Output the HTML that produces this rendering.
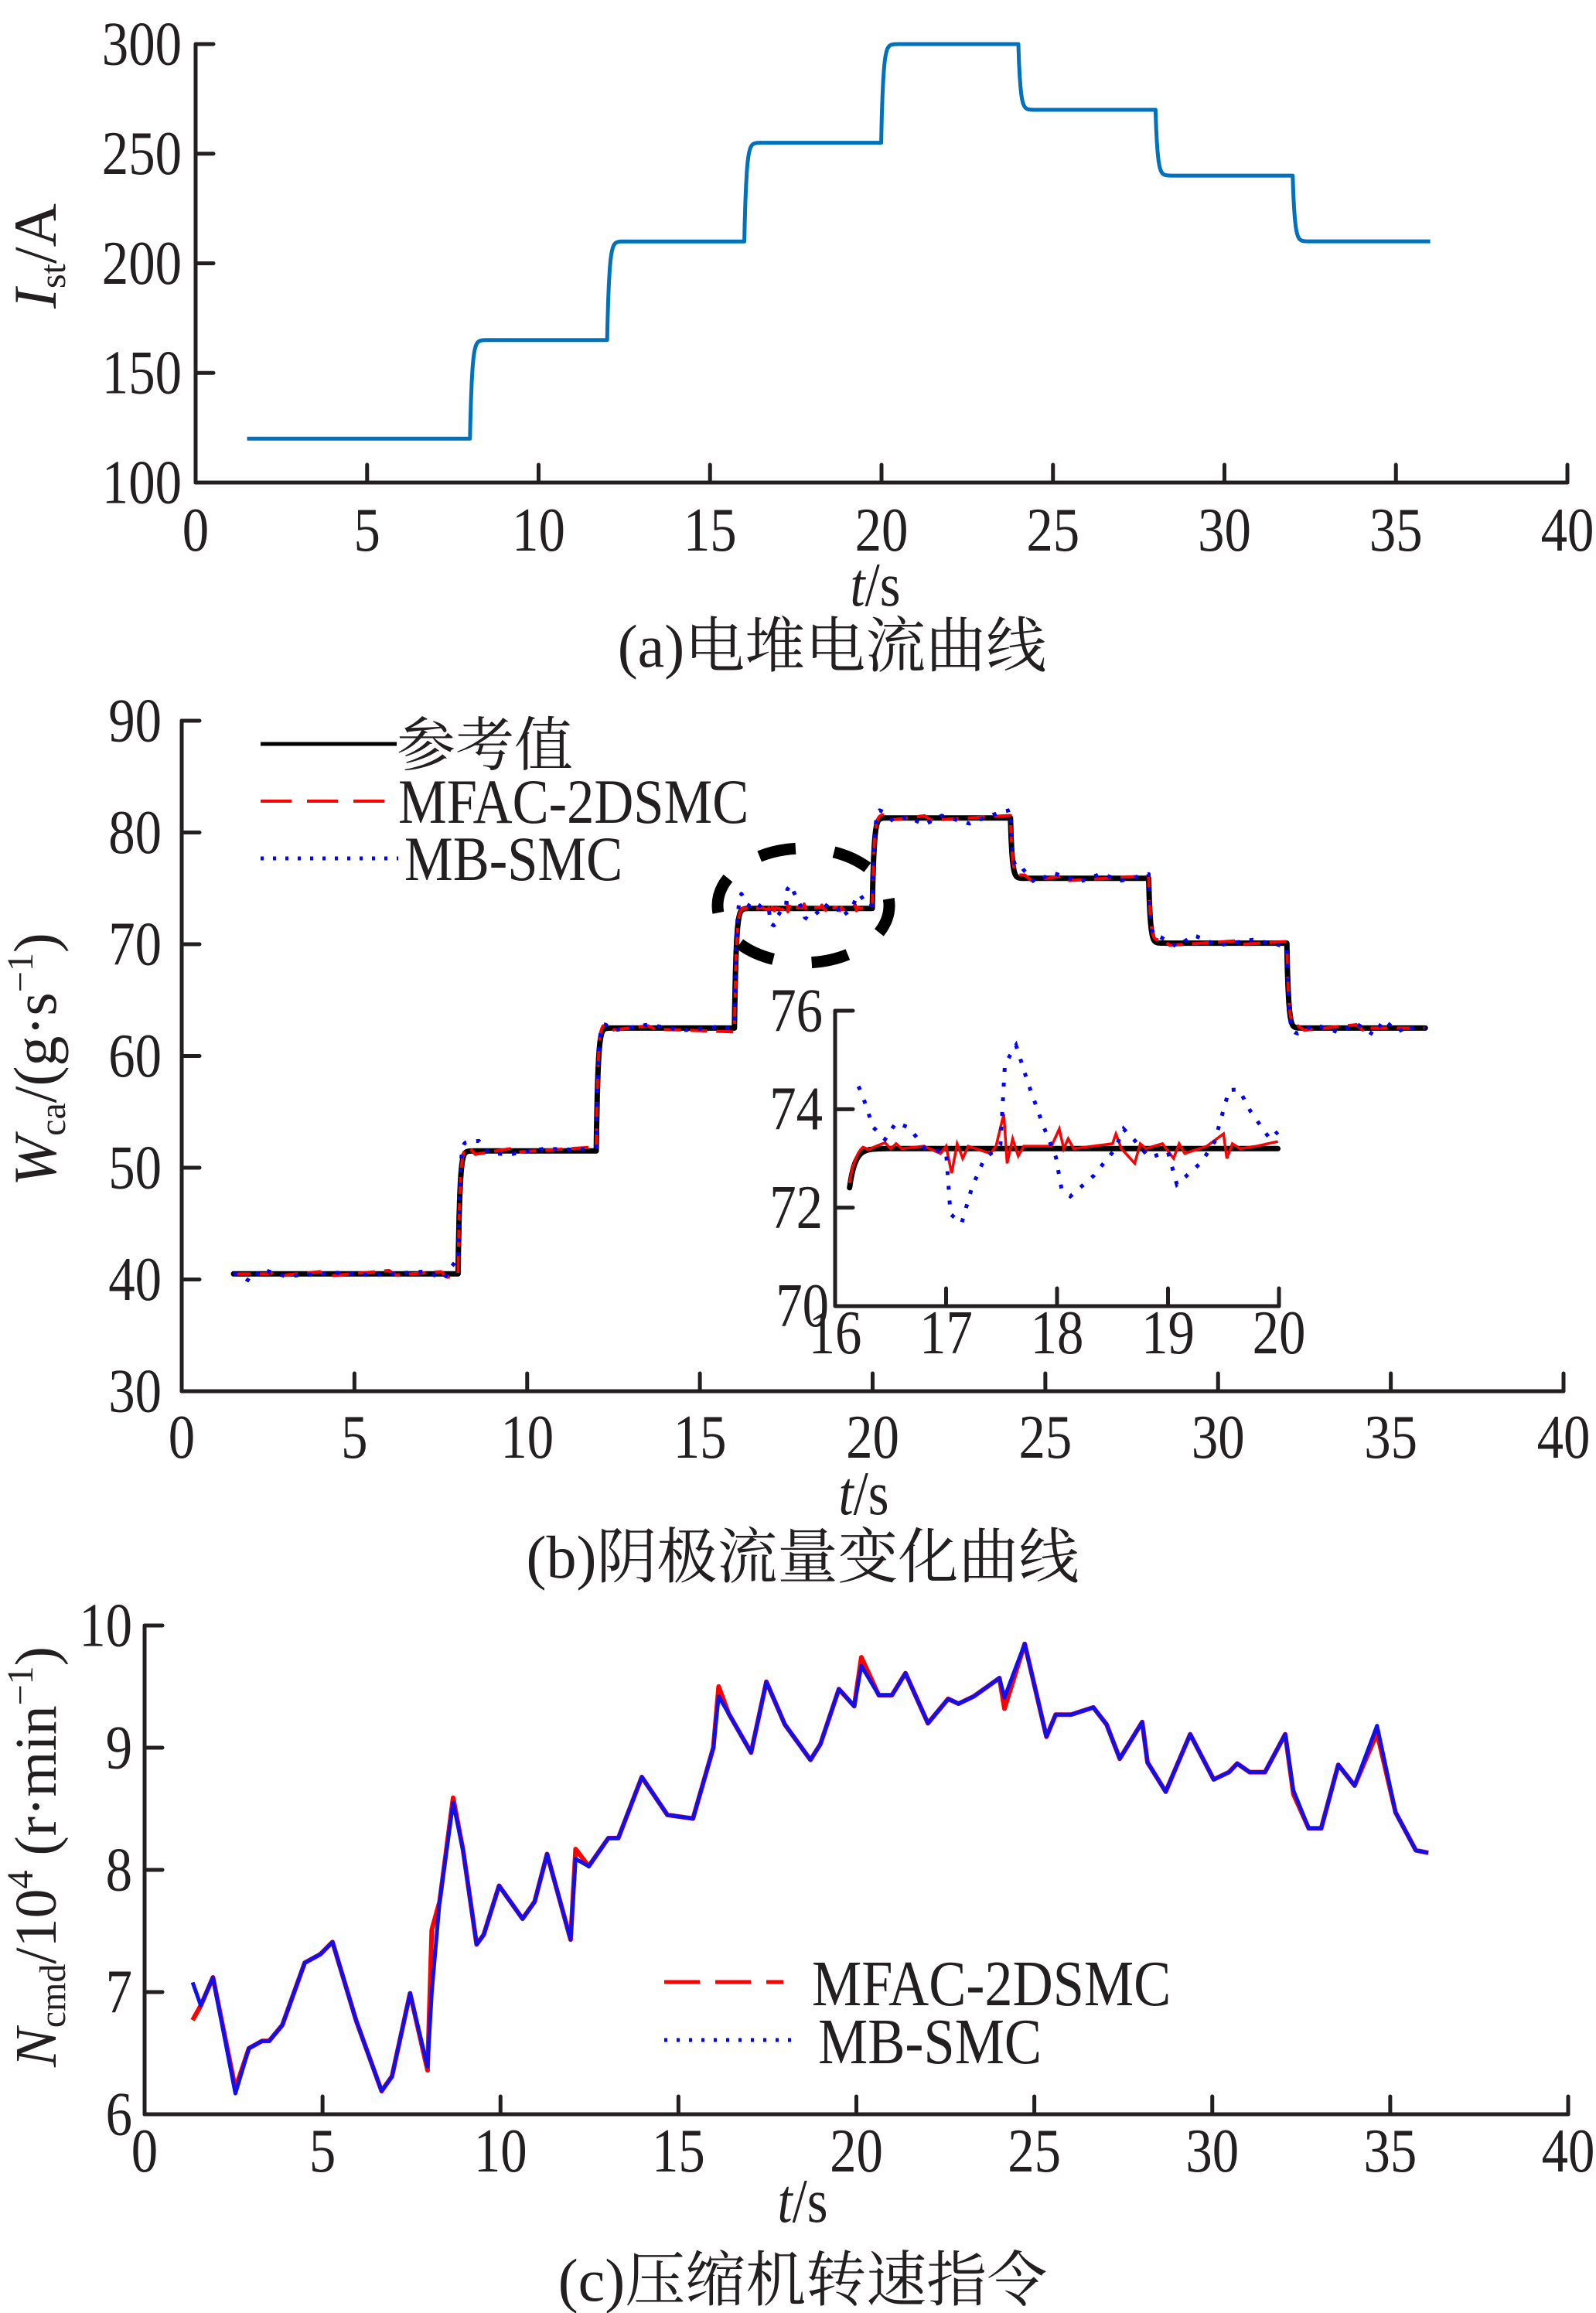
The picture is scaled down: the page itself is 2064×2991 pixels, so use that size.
<!DOCTYPE html>
<html><head><meta charset="utf-8"><style>
html,body{margin:0;padding:0;background:#fff;}
svg{display:block;}
text{font-family:"Liberation Serif","Noto Serif CJK SC","Noto Sans CJK SC",serif;fill:#231f20;}
</style></head><body>
<svg id="fig" width="2064" height="2991" viewBox="0 0 2064 2991" xmlns="http://www.w3.org/2000/svg">
<g id="pa"></g>
<g id="pb"></g>
<g id="pc"></g>
</svg>
<script>
// ---------- DATA ----------
const stepTimes = [1.5, 8, 12, 16, 20, 24, 28, 32];
const currentLevels = [120, 165, 210, 255, 300, 270, 240, 210];
const flowLevels = [40.5, 51.5, 62.5, 73.2, 81.3, 75.9, 70.1, 62.5];
const endTime = 36;
// MB-SMC deviation from reference (panel b)
const blueDevT = [1.6,2.0,2.3,3.0,4.5,5.5,7.0,7.6,7.8,7.95,8.3,8.6,8.9,9.5,10.5,11.5,12.2,12.5,13.5,14.5,15.5,15.9,
 16.2,16.34,16.45,16.55,16.67,16.81,17.0,17.04,17.14,17.23,17.34,17.49,17.53,17.63,17.74,17.87,17.99,18.04,18.12,18.33,18.52,18.6,18.69,18.83,19.0,19.08,19.3,19.42,19.55,19.64,19.74,19.92,
 20.2,20.6,21.0,21.5,22.0,22.8,23.5,24.3,24.7,25.2,26.0,26.6,27.2,28.3,28.8,29.3,30.0,31.0,32.3,32.8,33.5,34.0,34.5,34.8,35.2,35.6];
const blueDev = [0,-0.7,0.4,-0.2,0.1,-0.1,0.2,-0.4,0.6,1.2,0.8,0.9,-0.2,-0.3,0.2,0.1,0.5,-0.2,0.3,-0.2,0.1,0,
 1.5,0.45,0.19,0.53,0.42,0,-0.07,-1.33,-1.52,-0.81,-0.23,0.08,1.71,2.1,1.32,0.5,-0.18,-0.81,-0.97,-0.55,-0.02,0.4,0.19,-0.18,-0.07,-0.73,-0.28,0.14,1.19,1.2,0.77,0.19,
 0.8,-0.3,0.1,-0.6,0.2,-0.5,0.3,1.0,-0.4,0.5,-0.3,0.4,-0.2,0.6,-0.3,0.7,-0.2,0.3,-0.5,0.3,-0.4,0.4,-0.6,0.7,-0.3,0.2];
// MFAC-2DSMC deviation from reference (panel b)
const redDevT = [2.5,2.7,4.0,4.2,6.0,6.2,7.5,7.7,8.3,8.5,9.5,9.7,12.2,12.4,13.5,13.7,
 16.05,16.12,16.18,16.25,16.3,16.45,16.5,16.55,16.6,16.8,16.95,17.0,17.05,17.1,17.15,17.2,17.4,17.45,17.52,17.55,17.6,17.65,17.7,17.95,18.02,18.06,18.1,18.15,18.5,18.53,18.58,18.7,18.75,18.8,18.95,19.05,19.1,19.15,19.35,19.5,19.53,19.58,19.65,19.8,
 20.3,20.5,21.5,21.7,24.4,24.6,25.5,25.7,28.4,28.6,30.5,30.7,32.3,32.5,34.0,34.2];
const redDev = [0.3,-0.2,0.2,-0.2,0.3,-0.1,0.2,-0.3,0.4,-0.3,0.2,-0.1,0.4,-0.2,0.2,-0.1,
 -0.35,0.1,0.05,0.1,0,0.12,0,0.1,0,0.05,-0.1,0.05,-0.5,0.1,-0.2,0.05,-0.1,0.05,0.7,-0.3,0.2,-0.15,0.05,0.05,0.4,0,0.2,0,0.1,0.3,0,-0.3,0.1,0,0.1,-0.2,0.1,-0.1,0.05,0.3,-0.2,0.1,0,0.05,
 0.3,-0.2,0.2,-0.2,0.3,-0.2,0.2,-0.2,0.3,-0.2,0.2,-0.1,0.2,-0.2,0.3,-0.2];
// panel c: compressor speed command (x10^4 r/min)
const cT = [1.35,1.58,1.92,2.55,2.93,3.30,3.5,3.87,4.50,4.94,5.28,5.94,6.66,6.95,7.46,7.95,8.07,8.29,8.67,8.95,9.33,9.53,9.96,10.62,10.96,11.31,11.97,12.11,12.48,13.03,13.31,13.97,14.69,15.41,15.98,16.13,16.41,17.04,17.47,17.99,18.71,18.99,19.51,19.94,20.14,20.63,21.0,21.38,22.01,22.58,22.87,23.30,24.02,24.16,24.73,25.34,25.60,26.03,26.66,27.03,27.40,28.03,28.18,28.69,29.38,30.04,30.47,30.70,31.05,31.48,32.05,32.28,32.71,33.06,33.54,34.00,34.63,35.15,35.72,36.07];
const cBlue = [7.08,6.89,7.12,6.17,6.54,6.60,6.60,6.73,7.24,7.31,7.41,6.77,6.19,6.31,6.99,6.39,7.00,7.74,8.55,8.16,7.39,7.47,7.87,7.60,7.74,8.13,7.43,8.09,8.03,8.26,8.26,8.76,8.45,8.42,9.00,9.42,9.28,8.96,9.54,9.19,8.90,9.03,9.48,9.34,9.67,9.43,9.43,9.61,9.20,9.40,9.36,9.42,9.57,9.41,9.85,9.09,9.27,9.27,9.33,9.19,8.91,9.21,8.88,8.64,9.11,8.74,8.80,8.87,8.80,8.80,9.11,8.65,8.34,8.34,8.86,8.69,9.18,8.47,8.16,8.14];
const cRed = [6.77,6.89,7.12,6.21,6.54,6.60,6.60,6.73,7.24,7.31,7.41,6.77,6.19,6.31,6.99,6.36,7.51,7.74,8.59,8.16,7.39,7.47,7.87,7.60,7.74,8.13,7.43,8.17,8.03,8.26,8.26,8.76,8.45,8.42,9.00,9.50,9.28,8.96,9.54,9.19,8.90,9.03,9.48,9.34,9.74,9.43,9.43,9.61,9.20,9.40,9.36,9.42,9.57,9.32,9.85,9.09,9.27,9.27,9.33,9.19,8.91,9.21,8.88,8.64,9.11,8.74,8.80,8.87,8.80,8.80,9.11,8.62,8.34,8.34,8.86,8.69,9.12,8.47,8.16,8.14];
const xTicks = [0,5,10,15,20,25,30,35,40];
const aYTicks = [100,150,200,250,300];
const bYTicks = [30,40,50,60,70,80,90];
const cYTicks = [6,7,8,9,10];
const insetXTicks = [16,17,18,19,20];
const insetYTicks = [70,72,74,76];

// ---------- HELPERS ----------
const NS = "http://www.w3.org/2000/svg";
const SX = 0.86;
function mk(parent, tag, attrs, txt){
  const e = document.createElementNS(NS, tag);
  for (const k in attrs) e.setAttribute(k, attrs[k]);
  if (txt !== undefined) e.textContent = txt;
  parent.appendChild(e);
  return e;
}
function txt(parent, x, y, fs, anchor, str){
  return mk(parent, "text", {x:0, y:0, transform:`translate(${x},${y}) scale(${SX},1)`, "font-size":fs, "text-anchor":anchor}, str);
}
function lin(d0,d1,p0,p1){ return v => p0 + (v-d0)/(d1-d0)*(p1-p0); }
function stepSeries(levels, tau, dt){
  const out = [];
  let v = levels[0];
  for (let t = stepTimes[0]; t <= endTime + 1e-9; t += dt){
    let k = 0;
    for (let i = 0; i < stepTimes.length; i++) if (t >= stepTimes[i]) k = i;
    v = v + (levels[k]-v)*(1-Math.exp(-dt/tau));
    out.push([t, v]);
  }
  return out;
}
function interpDev(T, D, t){
  if (t <= T[0] || t >= T[T.length-1]) return 0;
  for (let i = 0; i < T.length-1; i++){
    if (t >= T[i] && t <= T[i+1]){
      const f = (t-T[i])/(T[i+1]-T[i]);
      return D[i] + f*(D[i+1]-D[i]);
    }
  }
  return 0;
}
function pathD(pts, X, Y){
  return pts.map((p,i)=>(i?"L":"M")+X(p[0]).toFixed(1)+","+Y(p[1]).toFixed(1)).join("");
}
function axes(g, X, Y, xt, yt, x0, x1, y0, y1, labelGap, xLabBase, fs, name){
  const ax = mk(g, "path", {d:`M${X(x0)},${Y(y1)}L${X(x0)},${Y(y0)}L${X(x1)},${Y(y0)}`, fill:"none", stroke:"#231f20", "stroke-width":5, "stroke-linejoin":"round", "stroke-linecap":"round"});
  
  
  xt.forEach(v=>{
    const tk = mk(g, "line", {x1:X(v), x2:X(v), y1:Y(y0), y2:Y(y0)-23, stroke:"#231f20", "stroke-width":5, "stroke-linecap":"round"});
    
    
    const lb = txt(g, X(v), xLabBase, fs, "middle", String(v));
    
    
  });
  yt.forEach(v=>{
    const tk = mk(g, "line", {x1:X(x0), x2:X(x0)+23, y1:Y(v), y2:Y(v), stroke:"#231f20", "stroke-width":5, "stroke-linecap":"round"});
    
    
    const lb = txt(g, X(x0)-labelGap, Y(v)+fs*0.33, fs, "end", String(v));
    
    
  });
}
const FS = 80;

// ---------- PANEL A ----------
(function(){
  const g = document.getElementById("pa");
  const X = lin(0,40,253,2027), Y = lin(100,300,624,57);
  axes(g, X, Y, xTicks, aYTicks, 0, 40, 100, 300, 18, 712, FS, "panel-a");
  const pts = stepSeries(currentLevels, 0.06, 0.01);
  const ln = mk(g, "path", {d:pathD(pts,X,Y), fill:"none", stroke:"#0072bd", "stroke-width":5, "stroke-linejoin":"round"});
  
  
  const yl = mk(g, "text", {transform:"translate(72,331) rotate(-90)", "font-size":78, "text-anchor":"middle"});
  
  
  mk(yl,"tspan",{"font-style":"italic"},"I");
  mk(yl,"tspan",{"font-size":48,dy:12},"st");
  mk(yl,"tspan",{dy:-12},"/A");
  const xl = txt(g, 1132, 783, FS, "middle", "");
  
  
  mk(xl,"tspan",{"font-style":"italic"},"t");
  mk(xl,"tspan",{},"/s");
  const cap = mk(g, "text", {x:1076, y:862, "font-size":78, "text-anchor":"middle"}, "(a)电堆电流曲线");
  
  
})();

// ---------- PANEL B ----------
(function(){
  const g = document.getElementById("pb");
  const X = lin(0,40,235,2022), Y = lin(30,90,1799,932);
  axes(g, X, Y, xTicks, bYTicks, 0, 40, 30, 90, 26, 1885, FS, "panel-b");
  const ref = stepSeries(flowLevels, 0.05, 0.01);
  const blue = ref.map(p=>[p[0], p[1]+interpDev(blueDevT, blueDev, p[0])]);
  const red = ref.map(p=>[p[0], p[1]+interpDev(redDevT, redDev, p[0])]);
  function draw(gg, X, Y, pre){
    const r = mk(gg,"path",{d:pathD(ref,X,Y),fill:"none",stroke:"#000","stroke-width":7,"stroke-linejoin":"round","stroke-linecap":"round"});
    
    
    const rd = mk(gg,"path",{d:pathD(red,X,Y),fill:"none",stroke:"#ff0000","stroke-width":4,"stroke-dasharray":"22 12","stroke-linejoin":"round"});
    
    
    const bl = mk(gg,"path",{d:pathD(blue,X,Y),fill:"none",stroke:"#0000ff","stroke-width":5,"stroke-dasharray":"5 13","stroke-linejoin":"round"});
    
    
  }
  draw(g, X, Y, "");
  const el = mk(g,"ellipse",{cx:1039,cy:1171,rx:111,ry:74,fill:"none",stroke:"#000","stroke-width":15,"stroke-dasharray":"48 50","stroke-dashoffset":10});
  
  
  const lg = mk(g,"g",{});
  
  
  mk(lg,"line",{x1:337,x2:513,y1:962,y2:962,stroke:"#000","stroke-width":5});
  mk(lg,"text",{x:513,y:990,"font-size":76},"参考值");
  mk(lg,"line",{x1:337,x2:510,y1:1036,y2:1036,stroke:"#ff0000","stroke-width":4,"stroke-dasharray":"40 20"});
  txt(lg,515,1064,82,"start","MFAC-2DSMC");
  mk(lg,"line",{x1:337,x2:515,y1:1110,y2:1110,stroke:"#0000ff","stroke-width":5,"stroke-dasharray":"4 12"});
  txt(lg,523,1138,82,"start","MB-SMC");
  // inset
  const ig = mk(g,"g",{});
  
  
  const IX = lin(16,20,1080,1654), IY = lin(70,76,1689,1307);
  const clip = mk(ig,"clipPath",{id:"insclip"});
  mk(clip,"rect",{x:1080,y:1290,width:580,height:400});
  const inner = mk(ig,"g",{"clip-path":"url(#insclip)"});
  const sub = t => t>=16.12 && t<=20.0;
  const refI = ref.filter(p=>sub(p[0])), redI = red.filter(p=>sub(p[0])), blueI = blue.filter(p=>sub(p[0])&&p[0]>=16.2);
  const r1 = mk(inner,"path",{d:pathD(refI,IX,IY),fill:"none",stroke:"#000","stroke-width":7,"stroke-linecap":"round"});
  
  
  const r2 = mk(inner,"path",{d:pathD(redI,IX,IY),fill:"none",stroke:"#ff0000","stroke-width":3.5});
  
  
  const r3 = mk(inner,"path",{d:pathD(blueI,IX,IY),fill:"none",stroke:"#0000ff","stroke-width":5,"stroke-dasharray":"5 14"});
  
  
  axes(ig, IX, IY, insetXTicks.slice(1), insetYTicks.slice(1), 16, 20, 70, 76, 16, 1750, FS, "inset");
  const l16 = txt(ig, IX(16), 1750, FS, "middle", "16");
  
  
  const l70 = txt(ig, IX(16)-8, IY(70)+26, FS, "end", "70");
  
  
  const yl = mk(g, "text", {transform:"translate(72,1370) rotate(-90)", "font-size":78, "text-anchor":"middle"});
  
  
  mk(yl,"tspan",{"font-style":"italic"},"W");
  mk(yl,"tspan",{"font-size":48,dy:12},"ca");
  mk(yl,"tspan",{dy:-12},"/(g·s");
  mk(yl,"tspan",{"font-size":48,dy:-30},"−1");
  mk(yl,"tspan",{dy:30},")");
  const xl = txt(g, 1117, 1958, FS, "middle", "");
  
  
  mk(xl,"tspan",{"font-style":"italic"},"t");
  mk(xl,"tspan",{},"/s");
  const cap = mk(g, "text", {x:1038, y:2040, "font-size":78, "text-anchor":"middle"}, "(b)阴极流量变化曲线");
  
  
})();

// ---------- PANEL C ----------
(function(){
  const g = document.getElementById("pc");
  const X = lin(0,40,187,2028), Y = lin(6,10,2734,2102);
  axes(g, X, Y, xTicks, cYTicks, 0, 40, 6, 10, 16, 2808, FS, "panel-c");
  const redPts = cT.map((t,i)=>[t,cRed[i]]);
  const bluePts = cT.map((t,i)=>[t,cBlue[i]]);
  const rl = mk(g,"path",{d:pathD(redPts,X,Y),fill:"none",stroke:"#ff0000","stroke-width":6,"stroke-linejoin":"round"});
  
  
  const bl = mk(g,"path",{d:pathD(bluePts,X,Y),fill:"none",stroke:"#1010ee","stroke-width":5,"stroke-linejoin":"round"});
  
  
  const lg = mk(g,"g",{});
  
  
  mk(lg,"line",{x1:859,x2:1013,y1:2563,y2:2563,stroke:"#ff0000","stroke-width":5,"stroke-dasharray":"46 20"});
  txt(lg,1050,2593,84,"start","MFAC-2DSMC");
  mk(lg,"line",{x1:859,x2:1035,y1:2638,y2:2638,stroke:"#0000ff","stroke-width":5,"stroke-dasharray":"4 12"});
  txt(lg,1058,2668,84,"start","MB-SMC");
  const yl = mk(g, "text", {transform:"translate(72,2401) rotate(-90)", "font-size":76, "text-anchor":"middle"});
  
  
  mk(yl,"tspan",{"font-style":"italic"},"N");
  mk(yl,"tspan",{"font-size":48,dy:12},"cmd");
  mk(yl,"tspan",{dy:-12},"/10");
  mk(yl,"tspan",{"font-size":48,dy:-30},"4");
  mk(yl,"tspan",{dy:30}," (r·min");
  mk(yl,"tspan",{"font-size":48,dy:-30},"−1");
  mk(yl,"tspan",{dy:30},")");
  const xl = txt(g, 1038, 2873, FS, "middle", "");
  
  
  mk(xl,"tspan",{"font-style":"italic"},"t");
  mk(xl,"tspan",{},"/s");
  const cap = mk(g, "text", {x:1038, y:2975, "font-size":78, "text-anchor":"middle"}, "(c)压缩机转速指令");
  
  
})();
</script>
</body></html>
